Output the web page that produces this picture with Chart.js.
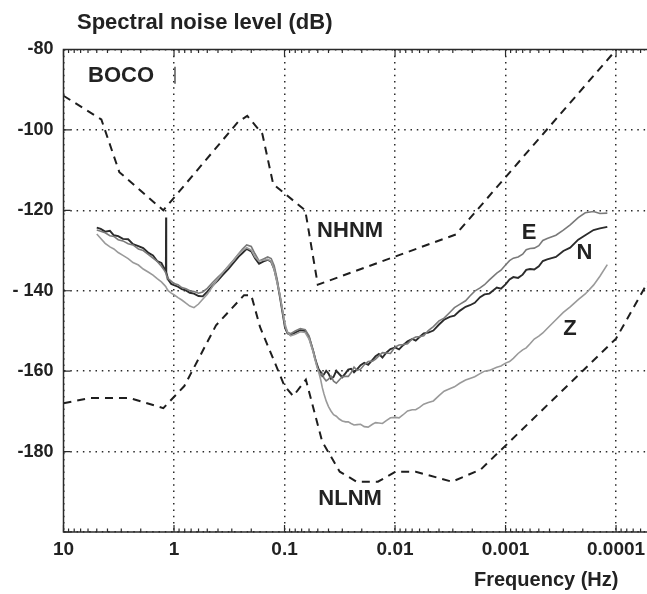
<!DOCTYPE html>
<html><head><meta charset="utf-8">
<script src="https://cdn.jsdelivr.net/npm/chart.js@4.4.0/dist/chart.umd.min.js"></script>
<style>html,body{margin:0;padding:0;background:#fff;overflow:hidden}</style>
</head><body>
<canvas id="c" width="647" height="594"></canvas>
<script>
// ---- data (frequency in Hz, level in dB) ----
const freqHz = [5.0,4.6,4.2,3.8,3.5,3.2,2.9,2.6,2.35,2.1,
 1.9,1.7,1.55,1.42,1.3,1.22,1.185,1.18,1.175,1.13,
 1.06,1.0,0.92,0.85,0.78,0.72,0.66,0.6,0.55,0.5,
 0.45,0.4,0.36,0.32,0.29,0.26,0.24,0.22,0.2,0.185,
 0.17,0.155,0.142,0.132,0.124,0.117,0.11,0.104,0.099,0.094,
 0.088,0.08,0.072,0.065,0.06,
 0.055,0.053,0.051,0.049,0.047,0.0455,0.044,0.042,0.04,0.038,
 0.036,0.034,0.032,0.030,0.028,0.0265,0.025,0.0235,0.022,0.0205,
 0.019,0.0175,0.016,0.015,0.014,0.013,0.012,0.011,0.01,0.0092,
 0.0085,0.0077,0.007,0.0065,0.006,0.0055,0.005,0.0045,0.004,0.0036,
 0.0032,0.0029,0.0026,0.0023,0.0021,0.0019,0.0017,0.00155,0.0014,0.0012,
 0.0011,0.001,0.00092,0.00085,0.00077,0.0007,0.00065,0.0006,0.00055,0.0005,
 0.00046,0.00042,0.00035,0.0003,0.00026,0.00022,0.00019,0.00016,0.00014,0.00012];
const levelN = [-124.3,-124.6,-125.3,-125.1,-126.2,-126.4,-127.1,-127.2,-128.4,-128.9,
 -129.4,-130.6,-131.2,-132.6,-133.1,-134.6,-135.0,-121.8,-135.4,-137.2,
 -138.3,-138.6,-139.0,-139.6,-139.9,-140.5,-140.7,-141.3,-141.4,-140.2,
 -138.8,-137.4,-136.0,-134.5,-133.1,-131.5,-130.6,-129.6,-130.2,-131.9,
 -133.3,-132.7,-132.3,-132.8,-134.6,-137.5,-141.6,-145.6,-149.2,-150.6,
 -151.0,-150.4,-149.8,-150.0,-151.6,
 -155.0,-156.8,-158.2,-159.6,-160.2,-161.2,-160.8,-159.9,-160.6,-161.9,
 -161.4,-159.9,-160.7,-161.5,-160.5,-159.6,-159.4,-160.3,-159.5,-158.5,
 -157.9,-158.4,-157.2,-156.3,-155.7,-156.6,-155.4,-154.5,-154.1,-154.6,
 -153.6,-152.6,-152.0,-152.4,-151.5,-150.6,-150.4,-149.9,-148.4,-147.2,
 -146.5,-146.2,-145.0,-144.0,-143.6,-143.0,-141.6,-140.9,-140.7,-139.2,
 -139.5,-138.4,-137.2,-136.6,-136.8,-136.0,-134.8,-134.6,-134.7,-133.9,
 -132.6,-132.2,-131.6,-130.1,-129.3,-127.3,-126.2,-124.9,-124.5,-124.1];
const levelE = [-124.9,-125.2,-125.6,-126.3,-126.5,-127.3,-127.6,-128.3,-128.6,-129.6,
 -130.0,-131.0,-131.9,-132.7,-133.9,-135.0,-135.6,-135.8,-136.0,-137.0,
 -137.6,-138.2,-138.5,-139.2,-139.5,-140.0,-140.2,-140.6,-140.3,-139.4,
 -138.0,-136.6,-135.4,-133.8,-132.4,-130.8,-129.6,-128.6,-129.0,-130.8,
 -132.6,-132.1,-131.6,-132.0,-133.8,-136.9,-141.2,-145.2,-148.9,-150.3,
 -150.7,-150.0,-149.4,-149.7,-151.2,
 -154.9,-156.5,-158.6,-160.2,-161.0,-160.6,-161.7,-162.4,-162.0,-161.2,
 -162.5,-163.0,-162.2,-161.4,-161.3,-161.3,-160.4,-159.0,-159.8,-159.5,
 -158.4,-157.6,-157.5,-157.0,-156.2,-155.4,-155.5,-155.6,-154.0,-153.5,
 -153.4,-153.2,-152.0,-151.5,-151.4,-151.2,-149.9,-148.9,-147.5,-146.8,
 -145.4,-144.2,-143.4,-142.5,-141.3,-140.1,-139.3,-138.5,-137.3,-135.6,
 -134.9,-133.6,-132.5,-131.9,-131.6,-130.9,-129.8,-129.5,-129.4,-128.8,
 -127.5,-127.0,-126.2,-124.9,-123.6,-121.8,-120.6,-120.3,-120.8,-120.7];
const levelZ = [-125.9,-127.0,-128.2,-129.1,-129.6,-130.5,-131.2,-132.0,-133.0,-133.6,
 -134.6,-135.4,-136.1,-137.0,-137.8,-138.6,-139.0,-139.1,-139.2,-140.0,
 -140.6,-141.0,-141.7,-142.3,-143.1,-143.8,-144.2,-143.3,-142.1,-140.9,
 -139.0,-137.0,-135.4,-133.8,-132.5,-130.9,-130.0,-129.3,-129.9,-131.6,
 -132.6,-132.4,-132.2,-132.7,-134.8,-137.9,-141.0,-145.0,-148.2,-150.4,
 -151.2,-150.8,-150.2,-150.4,-152.0,
 -155.3,-157.2,-158.8,-160.3,-162.2,-164.1,-165.6,-167.4,-168.8,-169.9,
 -170.8,-171.2,-171.9,-172.4,-172.6,-172.6,-173.0,-173.4,-173.3,-173.2,
 -173.8,-173.9,-173.2,-172.8,-172.9,-173.0,-172.3,-171.6,-171.5,-171.6,
 -170.9,-169.9,-169.6,-169.6,-169.0,-168.2,-167.8,-167.4,-166.1,-165.0,
 -164.4,-163.9,-163.0,-162.2,-161.8,-161.4,-160.6,-160.0,-159.8,-159.0,
 -158.7,-158.0,-157.6,-156.8,-155.6,-154.7,-154.2,-153.2,-152.0,-151.3,
 -150.5,-149.4,-147.2,-145.4,-144.0,-142.2,-140.8,-138.6,-136.4,-133.5];
const nhnmFreq  = [10, 4.545, 3.125, 1.25, 0.2632, 0.2174, 0.1587, 0.1266, 0.06494, 0.05, 0.002818, 0.0001, 0.00001];
const nhnmLevel = [-91.5, -97.4, -110.5, -120.0, -98.0, -96.5, -101.0, -113.5, -120.0, -138.5, -126.0, -80.1, -48.5];
const nlnmFreq  = [10, 5.882, 2.5, 1.25, 0.8065, 0.4167, 0.2326, 0.2, 0.1667, 0.1, 0.08333, 0.0641, 0.04566, 0.03165, 0.02222, 0.01429, 0.0099, 0.006494, 0.003049, 0.001667, 0.0001, 0.00001];
const nlnmLevel = [-168.0, -166.7, -166.7, -169.2, -163.7, -148.6, -141.1, -141.1, -149.0, -163.7, -166.2, -162.1, -177.5, -185.0, -187.5, -187.5, -185.0, -185.0, -187.5, -184.4, -151.9, -103.1];
const markFreq  = [0.98, 0.98];
const markLevel = [-84.3, -88.5];
const xTickValues = [10, 1, 0.1, 0.01, 0.001, 0.0001];
const xTickLabels = ['10', '1', '0.1', '0.01', '0.001', '0.0001'];
const yTickValues = [-200, -180, -160, -140, -120, -100, -80];
const yTickLabels = ['', '-180', '-160', '- 140', '-120', '-100', '-80'];
const textLabels = [
  {text: 'BOCO', f: 3.01, db: -86.6},
  {text: 'NHNM', f: 0.0255, db: -125.1},
  {text: 'NLNM', f: 0.0255, db: -191.9},
  {text: 'E', f: 6.12e-4, db: -125.5},
  {text: 'N', f: 1.93e-4, db: -130.6},
  {text: 'Z', f: 2.61e-4, db: -149.6}
];

// ---- chart ----
const FONT = '"Liberation Sans", Arial, sans-serif';
const pts = (fs, ls) => fs.map((f, i) => ({x: f, y: ls[i]}));

const decor = {
  id: 'decor',
  afterDraw(chart) {
    const {ctx, chartArea: a, scales: {x, y}} = chart;
    ctx.save();
    ctx.setLineDash([]);
    ctx.strokeStyle = '#2a2a2a';
    ctx.lineWidth = 1.5;
    ctx.beginPath();
    ctx.moveTo(a.right + 2, a.top); ctx.lineTo(a.left, a.top);
    ctx.lineTo(a.left, a.bottom); ctx.lineTo(a.right + 2, a.bottom);
    ctx.stroke();
    ctx.lineWidth = 1.2;
    ctx.beginPath();
    for (let e = -5; e <= 1; e++) {
      for (let m = 1; m <= 9; m++) {
        const v = m * Math.pow(10, e);
        const px = x.getPixelForValue(v);
        if (px < a.left - 0.5 || px > a.right) continue;
        const len = (m === 1) ? 7 : 3.5;
        ctx.moveTo(px, a.bottom); ctx.lineTo(px, a.bottom - len);
        ctx.moveTo(px, a.top); ctx.lineTo(px, a.top + len);
      }
    }
    yTickValues.forEach(v => {
      const py = y.getPixelForValue(v);
      ctx.moveTo(a.left, py); ctx.lineTo(a.left + 7, py);
    });
    ctx.stroke();
    ctx.fillStyle = '#222';
    ctx.textBaseline = 'middle';
    ctx.textAlign = 'left';
    ctx.font = 'bold 22px ' + FONT;
    ctx.fillText('Spectral noise level (dB)', 77, 23);
    ctx.font = 'bold 20px ' + FONT;
    ctx.fillText('Frequency (Hz)', 474, 580);
    ctx.textAlign = 'center';
    ctx.font = 'bold 22px ' + FONT;
    textLabels.forEach(l => {
      ctx.fillText(l.text, x.getPixelForValue(l.f), y.getPixelForValue(l.db));
    });
    ctx.restore();
  }
};

const gridCommon = {color: '#2a2a2a', lineWidth: 1.5, drawTicks: false};

new Chart(document.getElementById('c'), {
  type: 'line',
  data: {
    datasets: [
      {label: 'NHNM', data: pts(nhnmFreq, nhnmLevel), borderColor: '#1e1e1e', borderWidth: 2, borderDash: [8, 6]},
      {label: 'NLNM', data: pts(nlnmFreq, nlnmLevel), borderColor: '#1e1e1e', borderWidth: 2, borderDash: [8, 6]},
      {label: 'Z', data: pts(freqHz, levelZ), borderColor: '#9a9a9a', borderWidth: 1.6},
      {label: 'E', data: pts(freqHz, levelE), borderColor: '#7a7a7a', borderWidth: 1.6},
      {label: 'N', data: pts(freqHz, levelN), borderColor: '#2b2b2b', borderWidth: 1.9},
      {label: 'mark', data: pts(markFreq, markLevel), borderColor: '#555', borderWidth: 1.5}
    ]
  },
  options: {
    responsive: false,
    animation: false,
    layout: {padding: {top: 49.5, right: 0, left: 0, bottom: 0}},
    plugins: {legend: {display: false}, tooltip: {enabled: false}, title: {display: false}},
    elements: {point: {radius: 0}, line: {tension: 0}},
    scales: {
      x: {
        type: 'logarithmic', reverse: true, min: 5.248e-5, max: 10, bounds: 'data',
        afterBuildTicks: s => { s.ticks = xTickValues.map(v => ({value: v})); },
        afterFit: s => { s.height = 62; s.paddingLeft = 0; s.paddingRight = 0; },
        ticks: {autoSkip: false, maxRotation: 0, minRotation: 0, padding: 6, color: '#222',
                font: {family: FONT, size: 19, weight: 'bold'}, callback: (v, i) => xTickLabels[i]},
        grid: gridCommon,
        border: {display: false, dash: [1.5, 4.8]}
      },
      y: {
        min: -200, max: -80,
        afterBuildTicks: s => { s.ticks = yTickValues.map(v => ({value: v})); },
        afterFit: s => { s.width = 63.5; },
        ticks: {padding: 10, color: '#222', font: {family: FONT, size: 18, weight: 'bold'},
                callback: (v, i) => yTickLabels[i]},
        grid: gridCommon,
        border: {display: false, dash: [1.5, 4.8]}
      }
    }
  },
  plugins: [decor]
});
</script>
</body></html>
